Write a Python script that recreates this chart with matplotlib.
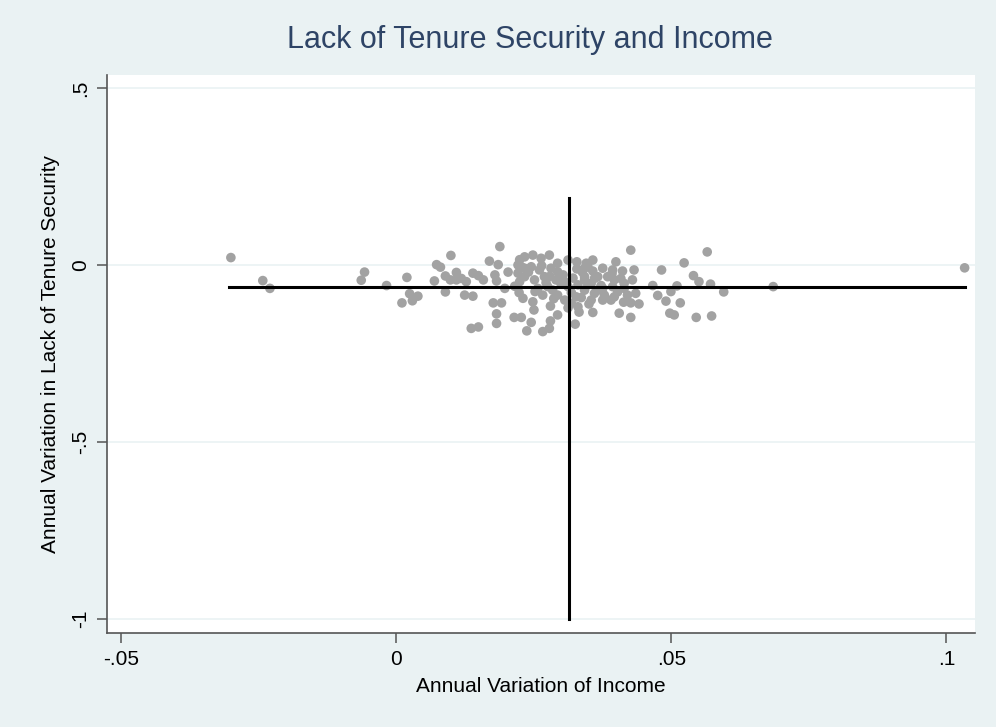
import matplotlib
matplotlib.use("Agg")
import matplotlib.pyplot as plt

# annual variation of income (x) and of lack of tenure security (y)
income = [
    -0.0301, -0.0243, -0.0230, -0.0058, -0.0064, -0.0018, 0.0019, 0.0024, 0.0039, 0.0010,
    0.0029, 0.0073, 0.0080, 0.0099, 0.0069, 0.0089, 0.0089, 0.0109, 0.0098, 0.0109,
    0.0118, 0.0127, 0.0124, 0.0139, 0.0139, 0.0149, 0.0158, 0.0169, 0.0176, 0.0182,
    0.0182, 0.0136, 0.0149, 0.0188, 0.0185, 0.0203, 0.0224, 0.0221, 0.0233, 0.0179,
    0.0182, 0.0221, 0.0197, 0.0223, 0.0224, 0.0191, 0.0214, 0.0227, 0.0237, 0.0245,
    0.0266, 0.0278, 0.0248, 0.0250, 0.0280, 0.0280, 0.0293, 0.0275, 0.0293, 0.0325,
    0.0330, 0.0332, 0.0357, 0.0357, 0.0328, 0.0328, 0.0342, 0.0357, 0.0375, 0.0399,
    0.0393, 0.0411, 0.0432, 0.0426, 0.0342, 0.0366, 0.0375, 0.0396, 0.0414, 0.0429,
    0.0354, 0.0375, 0.0390, 0.0413, 0.0426, 0.0441, 0.0405, 0.0426, 0.0466, 0.0482,
    0.0475, 0.0490, 0.0499, 0.0510, 0.0523, 0.0540, 0.0550, 0.0571, 0.0595, 0.0565,
    0.0516, 0.0497, 0.0505, 0.0545, 0.0573, 0.0685, 0.1033, 0.0233, 0.0248, 0.0263,
    0.0278, 0.0293, 0.0312, 0.0345, 0.0227, 0.0245, 0.0260, 0.0281, 0.0293, 0.0342,
    0.0233, 0.0251, 0.0269, 0.0290, 0.0342, 0.0360, 0.0327, 0.0257, 0.0312, 0.0299,
    0.0330, 0.0408, 0.0354, 0.0393, 0.0414, 0.0360, 0.0378, 0.0396, 0.0420, 0.0435,
    0.0384, 0.0366, 0.0303, 0.0321, 0.0348, 0.0266, 0.0306, 0.0312, 0.0284,
    0.0240, 0.0272, 0.0318, 0.0338, 0.0286, 0.0252, 0.0350, 0.0392, 0.0215, 0.0305,
    0.0264, 0.0336, 0.0372, 0.0402, 0.0279, 0.0230, 0.0348, 0.0318,
]
tenure = [
    0.021, -0.044, -0.066, -0.020, -0.043, -0.058, -0.035, -0.081, -0.088, -0.107,
    -0.101, 0.001, -0.006, 0.027, -0.045, -0.031, -0.076, -0.021, -0.042, -0.042,
    -0.038, -0.047, -0.085, -0.088, -0.023, -0.030, -0.042, 0.011, -0.107, -0.138,
    -0.165, -0.179, -0.175, 0.052, 0.001, -0.020, 0.015, 0.000, -0.009, -0.028,
    -0.045, -0.023, -0.066, -0.078, -0.047, -0.107, -0.148, -0.148, -0.186, -0.162,
    -0.188, -0.179, -0.104, -0.127, -0.116, -0.158, -0.141, -0.061, -0.085, -0.167,
    -0.118, -0.133, -0.134, 0.014, 0.009, -0.011, -0.033, -0.017, -0.009, 0.009,
    -0.014, -0.017, -0.014, 0.042, -0.071, -0.071, -0.066, -0.042, -0.052, -0.042,
    -0.099, -0.099, -0.099, -0.105, -0.107, -0.110, -0.136, -0.148, -0.058, -0.014,
    -0.086, -0.102, -0.075, -0.059, 0.006, -0.030, -0.047, -0.054, -0.076, 0.037,
    -0.107, -0.136, -0.141, -0.148, -0.144, -0.061, -0.008, 0.023, 0.028, 0.019,
    0.028, 0.005, 0.014, 0.005, -0.005, -0.005, -0.014, -0.009, -0.019, -0.009,
    -0.033, -0.042, -0.033, -0.042, -0.042, -0.038, -0.090, -0.066, -0.061, -0.052,
    -0.056, -0.038, -0.052, -0.061, -0.066, -0.080, -0.085, -0.090, -0.085, -0.080,
    -0.033, -0.033, -0.028, -0.037, -0.056, -0.085, -0.099, -0.121, -0.071,
    -0.020, -0.050, -0.078, -0.020, -0.095, -0.075, -0.110, -0.024, -0.060, -0.046,
    -0.002, -0.092, -0.058, -0.076, -0.032, -0.094, -0.004, -0.108,
]

# reference lines (means) and their extents
mean_income = 0.0313
mean_tenure = -0.062
hline_x = [-0.0304, 0.1033]
vline_y = [-1.0, 0.189]

xticks = [-0.05, 0, 0.05, 0.1]
xticklabels = ["-.05", "0", ".05", ".1"]
yticks = [-1, -0.5, 0, 0.5]
yticklabels = ["-1", "-.5", "0", ".5"]

plt.rcParams["font.family"] = ["Liberation Sans Narrow", "Liberation Sans", "DejaVu Sans"]

bg = "#eaf2f3"
fig = plt.figure(figsize=(9.96, 7.27), dpi=100, facecolor=bg)
ax = fig.add_axes([0.107, 0.129, 0.872, 0.768])
ax.set_facecolor("white")

for yt in yticks:
    ax.axhline(yt, color=bg, lw=1.2, zorder=0)

ax.scatter(income, tenure, s=48, color="#a2a2a2", edgecolors="none", zorder=2)
ax.plot(hline_x, [mean_tenure, mean_tenure], color="black", lw=2.2, zorder=3)
ax.plot([mean_income, mean_income], vline_y, color="black", lw=2.2, zorder=3)

ax.set_xlim(-0.0527, 0.1052)
ax.set_ylim(-1.04, 0.537)
ax.set_xticks(xticks)
ax.set_xticklabels(xticklabels)
ax.set_yticks(yticks)
ax.set_yticklabels(yticklabels, rotation=90, va="center")

for side in ["top", "right"]:
    ax.spines[side].set_visible(False)
for side in ["left", "bottom"]:
    ax.spines[side].set_color("#555555")
    ax.spines[side].set_linewidth(1.2)
ax.tick_params(colors="#555555", labelcolor="black", length=7, width=1.1, labelsize=15, pad=5)

ax.set_xlabel("Annual Variation of Income", fontsize=15, labelpad=6)
ax.set_ylabel("Annual Variation in Lack of Tenure Security", fontsize=15, labelpad=8)
fig.text(0.532, 0.945, "Lack of Tenure Security and Income", ha="center", va="center",
         fontsize=22, color="#2e4466")

fig.savefig("out.png", dpi=100, facecolor=bg)
